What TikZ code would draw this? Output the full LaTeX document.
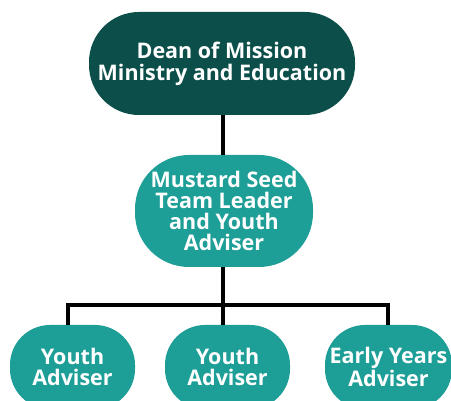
\documentclass[tikz,border=0pt]{standalone}
\usepackage{fontspec}
\setmainfont{Open Sans}
\definecolor{darkteal}{HTML}{0C4F4A}
\definecolor{teal2}{HTML}{1D9E97}
\tikzset{
  box/.style={fill=#1, text=white, font=\bfseries\fontsize{21.5}{22}\selectfont, align=center, inner sep=0pt},
  conn/.style={line width=4.5pt, black},
}
\begin{document}
\begin{tikzpicture}[x=1pt,y=-1pt]
\useasboundingbox (0,0) rectangle (451,401);
\begin{scope}
\clip (0,0) rectangle (451,401);
\node[box=darkteal, minimum width=266pt, minimum height=103pt, rounded corners=50pt] (top) at (222,63.5) {Dean of Mission\\Ministry and Education};
\node[box=teal2, minimum width=178pt, minimum height=112pt, rounded corners=54pt, font=\bfseries\fontsize{21.5}{21}\selectfont] (mid) at (224,211) {Mustard Seed\\Team Leader\\and Youth\\Adviser};
\node[box=teal2, minimum width=125pt, minimum height=84pt, rounded corners=40pt, font=\bfseries\fontsize{21.5}{21}\selectfont] (b1) at (72.5,367) {Youth\\Adviser};
\node[box=teal2, minimum width=125pt, minimum height=84pt, rounded corners=40pt, font=\bfseries\fontsize{21.5}{21}\selectfont] (b2) at (227.5,367) {Youth\\Adviser};
\node[box=teal2, minimum width=127pt, minimum height=84pt, rounded corners=40pt, font=\bfseries\fontsize{21.5}{21}\selectfont] (b3) at (388.5,367) {Early Years\\Adviser};
\end{scope}
\coordinate (bus) at (223,305);
\coordinate (busl) at (68,305);
\coordinate (busr) at (388,305);
\draw[conn] (top.south -| bus) -- (mid.north -| bus);
\draw[conn] (mid.south -| bus) -- (bus);
\draw[conn] (busl |- b1.north) -- (busl) -- (busr) -- (busr |- b3.north);
\draw[conn] (bus) -- (bus |- b2.north);
\end{tikzpicture}
\end{document}
